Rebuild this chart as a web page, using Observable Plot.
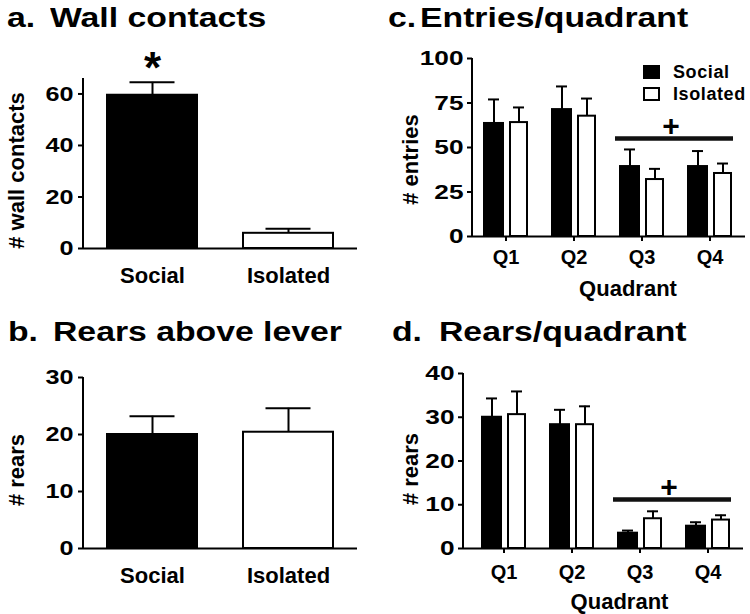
<!DOCTYPE html>
<html>
<head>
<meta charset="utf-8">
<script src="https://cdn.jsdelivr.net/npm/d3@7"></script>
<script src="https://cdn.jsdelivr.net/npm/@observablehq/plot@0.6"></script>
<style>
  html, body { margin: 0; padding: 0; background: #fff; }
  #root { position: relative; width: 750px; height: 614px; overflow: hidden;
          font-family: "Liberation Sans", Arial, sans-serif; color: #000; }
  .panel { position: absolute; }
  .title { position: absolute; font-weight: bold; font-size: 27px; line-height: 1;
           white-space: pre; transform-origin: left top; transform: scaleX(1.25); }
  .legend { position: absolute; font-weight: bold; font-size: 18px; line-height: 1; }
  .sw { position: absolute; width: 17px; height: 14px; box-sizing: border-box; border: 2px solid #000; }
  .lt { position: absolute; white-space: pre; letter-spacing: 0.6px; }
</style>
</head>
<body>
<div id="root">
  <div class="title" style="left:7px;top:5px;">a.</div>
  <div class="title" style="left:50px;top:5px;">Wall contacts</div>
  <div class="title" style="left:8px;top:319px;">b.</div>
  <div class="title" style="left:53px;top:319px;">Rears above lever</div>
  <div class="title" style="left:388px;top:5px;">c.</div>
  <div class="title" style="left:420px;top:5px;">Entries/quadrant</div>
  <div class="title" style="left:392px;top:319px;">d.</div>
  <div class="title" style="left:439px;top:319px;">Rears/quadrant</div>
  <div id="pa" class="panel" style="left:0px;top:40px;"></div>
  <div id="pb" class="panel" style="left:0px;top:340px;"></div>
  <div id="pc" class="panel" style="left:375px;top:40px;"></div>
  <div id="pd" class="panel" style="left:375px;top:340px;"></div>
  <div class="legend" style="left:0;top:0;">
    <div class="sw" style="left:643px;top:65px;background:#000;"></div>
    <div class="lt" style="left:673px;top:63px;">Social</div>
    <div class="sw" style="left:643px;top:87px;background:#fff;"></div>
    <div class="lt" style="left:673px;top:85px;">Isolated</div>
  </div>
</div>
<script>
// ---------- data ----------
const groups = ["Social", "Isolated"];
const wallContacts = [59.5, 5.9];
const wallContactsSem = [5.0, 1.8];
const wallTicks = [0, 20, 40, 60];
const wallMax = 66;
const wallStarGroups = ["Social"];

const rearsAboveLever = [20.0, 20.4];
const rearsAboveLeverSem = [3.2, 4.2];
const rearsTicks = [0, 10, 20, 30];
const rearsMax = 30;

const quadrants = ["Q1", "Q2", "Q3", "Q4"];
const entriesSocial = [63.5, 71.3, 39.3, 39.3];
const entriesSocialSem = [13.5, 13.0, 9.6, 8.7];
const entriesIsolated = [64.0, 67.6, 32.0, 35.4];
const entriesIsolatedSem = [8.5, 9.9, 6.0, 5.6];
const entriesTicks = [0, 25, 50, 75, 100];
const entriesMax = 100;
const entriesSigSpan = ["Q3", "Q4"];
const entriesSigLevel = 55;

const rearsQSocial = [30.0, 28.3, 3.5, 5.1];
const rearsQSocialSem = [4.3, 3.4, 0.6, 0.9];
const rearsQIsolated = [30.6, 28.3, 6.8, 6.5];
const rearsQIsolatedSem = [5.3, 4.2, 1.7, 1.1];
const rearsQTicks = [0, 10, 20, 30, 40];
const rearsQMax = 40;
const rearsQSigSpan = ["Q3", "Q4"];
const rearsQSigLevel = 11.2;

// ---------- helpers ----------
const FONT = "'Liberation Sans', Arial, sans-serif";
const baseStyle = {fontFamily: FONT, fontWeight: "bold", color: "#000", background: "transparent", overflow: "visible"};

function yAxisLine(yMax) {
  return (index, scales, values, dims) => {
    const ln = document.createElementNS("http://www.w3.org/2000/svg", "line");
    ln.setAttribute("x1", dims.marginLeft);
    ln.setAttribute("x2", dims.marginLeft);
    ln.setAttribute("y1", scales.y(yMax));
    ln.setAttribute("y2", scales.y(0));
    ln.setAttribute("stroke", "#000");
    ln.setAttribute("stroke-width", 2);
    return ln;
  };
}

// widen the y tick numerals (the reference uses a wide bold face)
function widenYTicks(svg, k) {
  svg.querySelectorAll('g[aria-label="y-axis tick label"] text').forEach(t => {
    const tr = t.getAttribute("transform");
    if (tr) t.setAttribute("transform", tr + ` scale(${k},1)`);
  });
  return svg;
}

function simplePanel({means, sems, ticks, yMax, ylabel, ylabelDx, ylabelDy, marginTop, stars}) {
  const rows = groups.map((g, i) => ({group: g, mean: means[i], top: means[i] + sems[i]}));
  const starRows = rows.filter(d => (stars || []).includes(d.group));
  const svg = Plot.plot({
    width: 375, height: 270,
    marginLeft: 83, marginRight: 18, marginTop, marginBottom: 62,
    style: baseStyle,
    x: {domain: groups, paddingInner: 0.338, paddingOuter: 0.176},
    y: {domain: [0, yMax]},
    marks: [
      Plot.barY(rows.filter(d => d.group === "Social"), {x: "group", y: "mean", fill: "#000", stroke: "#000", strokeWidth: 2}),
      Plot.barY(rows.filter(d => d.group === "Isolated"), {x: "group", y: "mean", fill: "#fff", stroke: "#000", strokeWidth: 2}),
      Plot.ruleX(rows, {x: "group", y1: "mean", y2: "top", stroke: "#000", strokeWidth: 2}),
      Plot.tickY(rows, {x: "group", y: "top", stroke: "#000", strokeWidth: 2, insetLeft: 22.5, insetRight: 22.5}),
      Plot.text(starRows, {x: "group", y: "top", text: () => "*", dy: -13, fontSize: 44}),
      Plot.axisY({ticks, tickSize: 5, tickPadding: 5, fontSize: 21, strokeWidth: 2, label: null}),
      Plot.axisX({tickSize: 0, tickPadding: 19, fontSize: 22, label: null}),
      Plot.text([ylabel], {frameAnchor: "left", text: d => d, rotate: -90, textAnchor: "middle", lineAnchor: "middle", dx: ylabelDx, dy: ylabelDy, fontSize: 22}),
      Plot.ruleY([0], {stroke: "#000", strokeWidth: 2}),
      yAxisLine(yMax)
    ]
  });
  return widenYTicks(svg, 1.2);
}

function groupedPanel({soc, socSem, iso, isoSem, ticks, yMax, ylabel, ylabelDx, ylabelDy,
                       marginLeft, marginRight, marginTop, marginBottom, align, paddingOuter,
                       sigSpan, sigLevel, tickPadding, qdx, qdy, sigInset}) {
  const sRows = quadrants.map((q, i) => ({q, mean: soc[i], top: soc[i] + socSem[i]}));
  const iRows = quadrants.map((q, i) => ({q, mean: iso[i], top: iso[i] + isoSem[i]}));
  const sig = [{x1: sigSpan[0], x2: sigSpan[1], y: sigLevel}];
  const svg = Plot.plot({
    width: 375, height: 270,
    marginLeft, marginRight, marginTop, marginBottom,
    style: baseStyle,
    x: {domain: quadrants, paddingInner: 0.345, paddingOuter, align},
    y: {domain: [0, yMax]},
    marks: [
      Plot.barY(sRows, {x: "q", y: "mean", fill: "#000", stroke: "#000", strokeWidth: 2, insetLeft: 1, insetRight: 25}),
      Plot.barY(iRows, {x: "q", y: "mean", fill: "#fff", stroke: "#000", strokeWidth: 2, insetLeft: 27, insetRight: 1}),
      Plot.ruleX(sRows, {x: "q", y1: "mean", y2: "top", stroke: "#000", strokeWidth: 2, dx: -12}),
      Plot.ruleX(iRows, {x: "q", y1: "mean", y2: "top", stroke: "#000", strokeWidth: 2, dx: 13}),
      Plot.tickY(sRows, {x: "q", y: "top", stroke: "#000", strokeWidth: 2, insetLeft: 5, insetRight: 29}),
      Plot.tickY(iRows, {x: "q", y: "top", stroke: "#000", strokeWidth: 2, insetLeft: 30, insetRight: 4}),
      Plot.ruleY(sig, {x1: "x1", x2: "x2", y: "y", stroke: "#111", strokeWidth: 4.5, insetLeft: sigInset, insetRight: -1}),
      Plot.text(sig, {x: "x2", y: "y", text: () => "+", dx: -39, dy: -12, fontSize: 30}),
      Plot.axisY({ticks, tickSize: 5, tickPadding: 4, fontSize: 21, strokeWidth: 2, label: null}),
      Plot.axisX({tickSize: 5, tickPadding, fontSize: 20, strokeWidth: 2, label: null}),
      Plot.text([ylabel], {frameAnchor: "left", text: d => d, rotate: -90, textAnchor: "middle", lineAnchor: "middle", dx: ylabelDx, dy: ylabelDy, fontSize: 22}),
      Plot.text(["Quadrant"], {frameAnchor: "bottom", text: d => d, textAnchor: "middle", lineAnchor: "middle", dx: qdx, dy: qdy, fontSize: 22}),
      Plot.ruleY([0], {stroke: "#000", strokeWidth: 2}),
      yAxisLine(yMax)
    ]
  });
  return widenYTicks(svg, 1.25);
}

document.getElementById("pa").appendChild(simplePanel({
  means: wallContacts, sems: wallContactsSem, ticks: wallTicks, yMax: wallMax,
  ylabel: "# wall contacts", ylabelDx: -67, ylabelDy: 7, marginTop: 38, stars: wallStarGroups
}));
document.getElementById("pb").appendChild(simplePanel({
  means: rearsAboveLever, sems: rearsAboveLeverSem, ticks: rearsTicks, yMax: rearsMax,
  ylabel: "# rears", ylabelDx: -67, ylabelDy: 7, marginTop: 37, stars: []
}));
document.getElementById("pc").appendChild(groupedPanel({
  soc: entriesSocial, socSem: entriesSocialSem, iso: entriesIsolated, isoSem: entriesIsolatedSem,
  ticks: entriesTicks, yMax: entriesMax, ylabel: "# entries", ylabelDx: -62, ylabelDy: 12,
  marginLeft: 97, marginRight: 5, marginTop: 18, marginBottom: 74, align: 0.45, paddingOuter: 0.16,
  sigSpan: entriesSigSpan, sigLevel: entriesSigLevel, tickPadding: 8, qdx: 19, qdy: 52, sigInset: -4
}));
document.getElementById("pd").appendChild(groupedPanel({
  soc: rearsQSocial, socSem: rearsQSocialSem, iso: rearsQIsolated, isoSem: rearsQIsolatedSem,
  ticks: rearsQTicks, yMax: rearsQMax, ylabel: "# rears", ylabelDx: -53, ylabelDy: 8,
  marginLeft: 88, marginRight: 7, marginTop: 33, marginBottom: 62, align: 0.58, paddingOuter: 0.214,
  sigSpan: rearsQSigSpan, sigLevel: rearsQSigLevel, tickPadding: 11, qdx: 16, qdy: 53, sigInset: -4
}));
</script>
</body>
</html>
